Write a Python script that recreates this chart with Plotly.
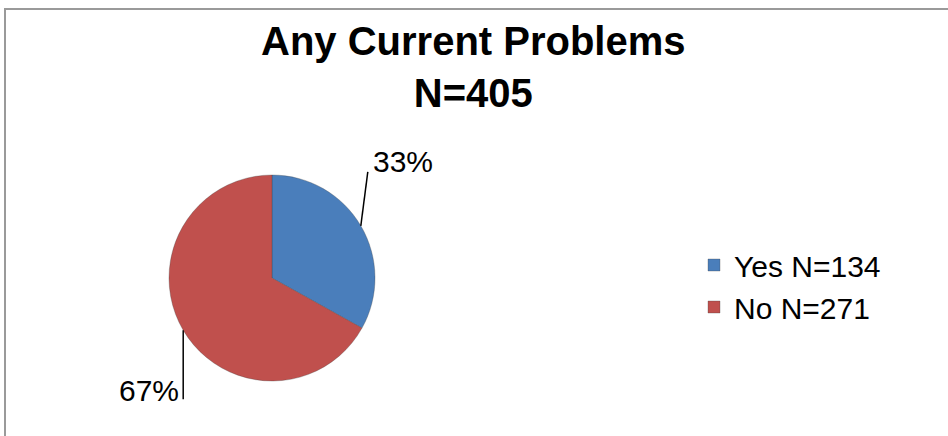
import math
import plotly.graph_objects as go

# ---- data ----
categories = ["Yes N=134", "No N=271"]
counts = [134, 271]
pct_labels = ["33%", "67%"]
colors = ["#4A7EBB", "#C0504D"]
title_line1 = "Any Current Problems"
title_line2 = "N=405"

W, H = 948, 436
FONT = "Arial, 'Liberation Sans', sans-serif"

def px(x):
    return x / W

def py(y):
    return 1 - y / H

# pie geometry (pixels)
CX, CY, R = 272, 278, 103

fig = go.Figure()
fig.add_trace(go.Pie(
    labels=categories,
    values=counts,
    sort=False,
    direction="clockwise",
    rotation=0,
    textinfo="none",
    hoverinfo="label+percent",
    marker=dict(colors=colors, line=dict(width=0.6, color="rgba(60,60,60,0.5)")),
    domain=dict(x=[px(CX - R), px(CX + R)], y=[py(CY + R), py(CY - R)]),
))

# leader lines and percent labels, anchored at slice mid-angles
total = sum(counts)
cum = 0
shapes = []
annotations = []
leader_offsets = [(7, -54), (0, 69)]
label_offsets = [(42, -64), (-34, 60)]
for i, v in enumerate(counts):
    mid = cum + v / 2
    cum += v
    ang = math.radians(90 - 360 * mid / total)
    x0 = CX + R * math.cos(ang)
    y0 = CY - R * math.sin(ang)
    dx, dy = leader_offsets[i]
    shapes.append(dict(type="line", xref="paper", yref="paper",
                       x0=px(x0), y0=py(y0), x1=px(x0 + dx), y1=py(y0 + dy),
                       line=dict(color="black", width=1.5)))
    lx, ly = label_offsets[i]
    annotations.append(dict(text=pct_labels[i], xref="paper", yref="paper",
                            x=px(x0 + lx), y=py(y0 + ly), xanchor="center", yanchor="middle",
                            showarrow=False, font=dict(family=FONT, size=30, color="black")))

# chart border
shapes.append(dict(type="rect", xref="paper", yref="paper",
                   x0=px(5), y0=py(9), x1=px(W + 20), y1=py(H + 20),
                   line=dict(color="#9a9a9a", width=2), fillcolor="rgba(0,0,0,0)"))

annotations.append(dict(text="<b>%s</b><br><b>%s</b>" % (title_line1, title_line2),
                        xref="paper", yref="paper",
                        x=px(473), y=py(67), xanchor="center", yanchor="middle",
                        showarrow=False, font=dict(family=FONT, size=40, color="black")))

fig.update_layout(
    width=W, height=H,
    margin=dict(l=0, r=0, t=0, b=0),
    paper_bgcolor="white",
    plot_bgcolor="white",
    showlegend=True,
    legend=dict(x=px(694), y=py(286), xanchor="left", yanchor="middle",
                font=dict(family=FONT, size=30, color="black"),
                bgcolor="rgba(0,0,0,0)"),
    shapes=shapes,
    annotations=annotations,
)

fig.write_html("out.html")
